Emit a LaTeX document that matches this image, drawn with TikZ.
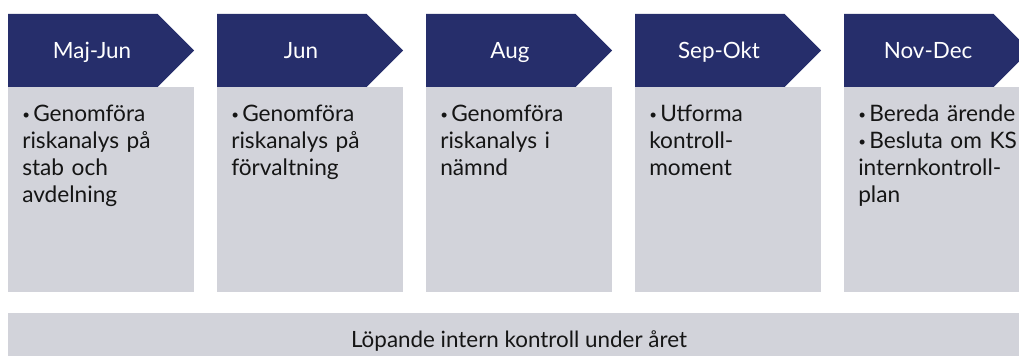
\documentclass[tikz,border=0pt]{standalone}
\usepackage{fontspec}
\setmainfont{Lato}
\usepackage{tikz}
\definecolor{navy}{HTML}{262E6B}
\definecolor{ljusgra}{HTML}{D2D3DA}
\definecolor{texten}{HTML}{151515}
% bullet paragraph with hanging indent
\newcommand\punkt[1]{\hangindent=8.25pt\hangafter=1%
    \makebox[8.25pt][l]{\raisebox{1.6pt}{\fontsize{10}{10}\selectfont\textbullet}}#1\par}

\begin{document}
\begin{tikzpicture}[x=0.75pt,y=-0.75pt,
    rubrik/.style={anchor=base,text=white,inner sep=0pt,
        font=\fontsize{16.8}{20.25}\selectfont},
    punkter/.style={anchor=base west,inner sep=0pt,text width=130pt,align=left,
        text=texten,font=\fontsize{17}{20.25}\selectfont}]
    \useasboundingbox (0,0) rectangle (1019,356);
    \clip (0,0) rectangle (1019,356);
    % the five periods: chevron header and grey box
    \foreach \i/\tid/\txt in {
        0/Maj-Jun/{\punkt{Genomföra\\riskanalys på\\stab och\\avdelning}},
        1/Jun/{\punkt{Genomföra\\riskanalys på\\förvaltning}},
        2/Aug/{\punkt{Genomföra\\riskanalys i\\nämnd}},
        3/Sep-Okt/{\punkt{Utforma\\kontroll-\\moment}},
        4/Nov-Dec/{\punkt{Bereda ärende}\punkt{Besluta om KS\\internkontroll-\\plan}}}
    {
        \fill[navy] (8+209*\i,14) -- (157.5+209*\i,14) -- (194+209*\i,50.5)
            -- (157.5+209*\i,87) -- (8+209*\i,87) -- cycle;
        \fill[ljusgra] (8+209*\i,87) rectangle (194+209*\i,292);
        \node[rubrik] (h\i) at (92+209*\i,58.5) {\tid};
        \node[punkter] (b\i) at (22+209*\i,122) {\txt};
    }
    % running control, whole year
    \fill[ljusgra] (8,313) rectangle (1030,366);
    \node[anchor=base,inner sep=0pt,text=texten,font=\fontsize{16.8}{20.25}\selectfont]
        (lop) at (519,347) {Löpande intern kontroll under året};
\end{tikzpicture}
\end{document}
